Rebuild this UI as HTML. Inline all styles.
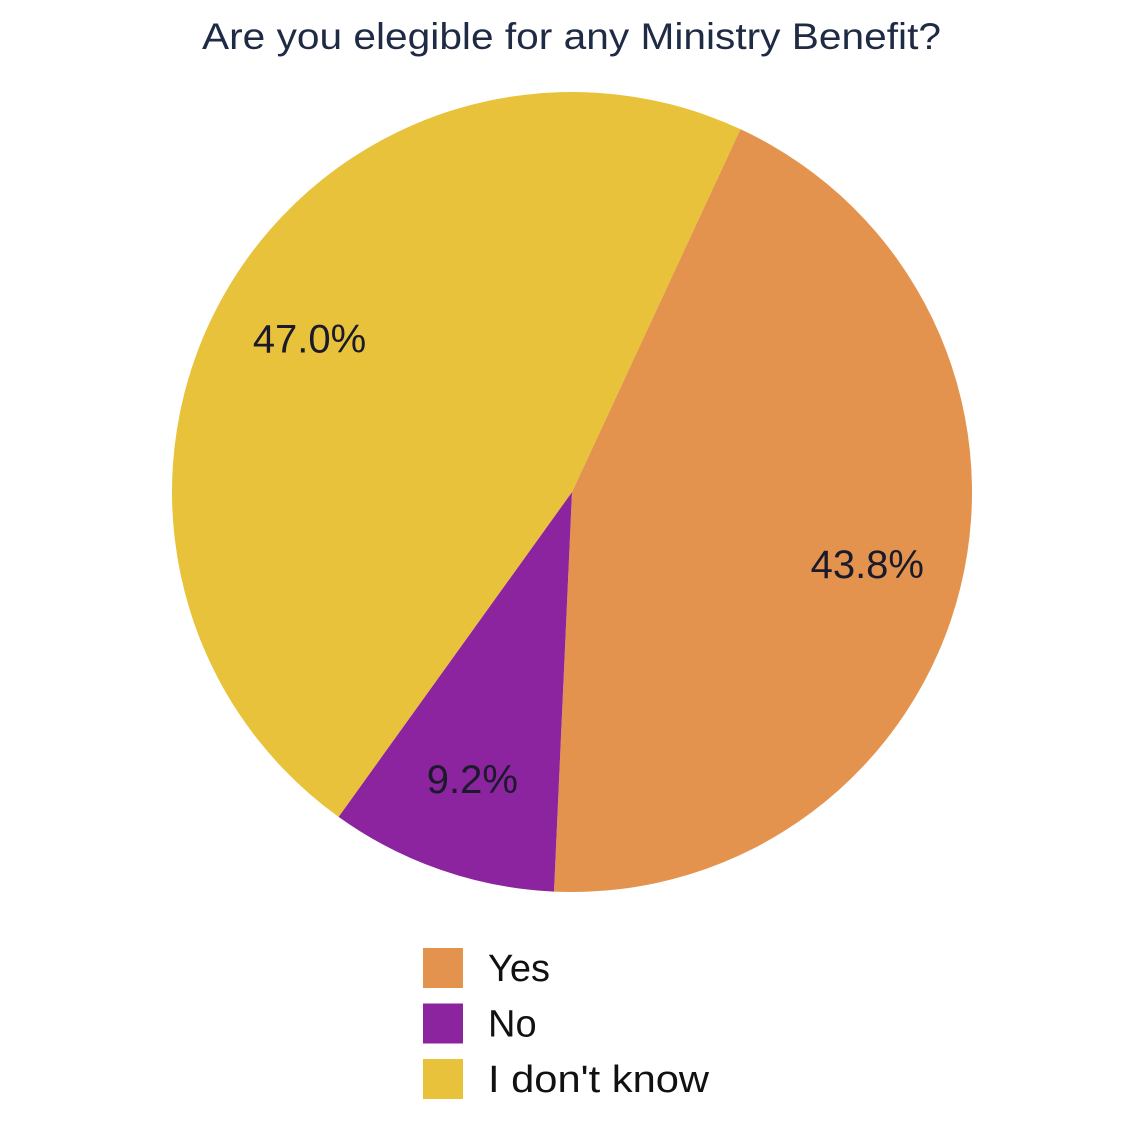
<!DOCTYPE html>
<html><head><meta charset="utf-8"><style>
html,body{margin:0;padding:0;background:#fff;}
svg{display:block;font-family:"Liberation Sans",sans-serif;}
</style></head><body>
<svg id="chart" width="1144" height="1144" viewBox="0 0 1144 1144">
<text x="202" y="49" font-size="37" fill="#1f2a44" textLength="739" lengthAdjust="spacingAndGlyphs">Are you elegible for any Ministry Benefit?</text>
<g id="slices"></g>
<g id="labels"></g>
<g id="legend"></g>
</svg>
<script>
const categories = ["Yes", "No", "I don't know"];
const values = [43.8, 9.2, 47.0];
const colors = ["#e3934d", "#8c239f", "#e7c23a"];
const labelText = ["43.8%", "9.2%", "47.0%"];
const startDeg = 24.9;

const cx = 572, cy = 492, R = 400, ns = "http://www.w3.org/2000/svg";
const total = values.reduce((a,b)=>a+b,0);
const pt = (deg, r) => [cx + r*Math.sin(deg*Math.PI/180), cy - r*Math.cos(deg*Math.PI/180)];
let a = startDeg;
const sg = document.getElementById('slices'), lg = document.getElementById('labels'), leg = document.getElementById('legend');
values.forEach((v,i)=>{
  const sweep = v/total*360, a2 = a+sweep;
  const p1 = pt(a,R), p2 = pt(a2,R);
  const path = document.createElementNS(ns,'path');
  path.setAttribute('d',`M${cx},${cy} L${p1[0]},${p1[1]} A${R},${R} 0 ${sweep>180?1:0} 1 ${p2[0]},${p2[1]} Z`);
  path.setAttribute('fill',colors[i]);
  
  
  sg.appendChild(path);
  const m = pt(a+sweep/2, R*0.76);
  const t = document.createElementNS(ns,'text');
  t.setAttribute('x',m[0]); t.setAttribute('y',m[1]+14);
  t.setAttribute('text-anchor','middle'); t.setAttribute('font-size','40'); t.setAttribute('fill','#1a1a2a');
  t.textContent = labelText[i];
  
  
  lg.appendChild(t);
  const r = document.createElementNS(ns,'rect');
  r.setAttribute('x',423); r.setAttribute('y',948+i*55.5); r.setAttribute('width',40); r.setAttribute('height',40);
  r.setAttribute('fill',colors[i]);
  
  
  leg.appendChild(r);
  const lt = document.createElementNS(ns,'text');
  lt.setAttribute('x',488); lt.setAttribute('y',981+i*55.5); lt.setAttribute('font-size','38'); lt.setAttribute('fill','#111');
  lt.textContent = categories[i];
  if (i === 2) { lt.setAttribute('textLength', 221); lt.setAttribute('lengthAdjust','spacingAndGlyphs'); }
  
  
  leg.appendChild(lt);
  a = a2;
});
</script>
</body></html>
